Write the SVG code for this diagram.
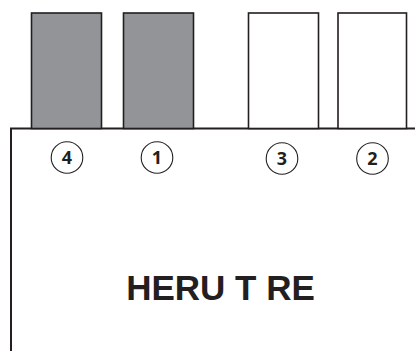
<svg xmlns="http://www.w3.org/2000/svg" width="415" height="351" viewBox="0 0 415 351">
<style>
.port{stroke:#231f20;stroke-width:1.6}
.dark{fill:#929497}
.light{fill:#ffffff}
.badge{fill:#ffffff;stroke:#231f20;stroke-width:1.1}
.num{font-family:"Open Sans","Liberation Sans",sans-serif;font-weight:700;font-size:18px;fill:#231f20;text-anchor:middle}
.body{fill:none;stroke:#231f20;stroke-width:2}
.title{font-family:"Liberation Sans",Arial,sans-serif;font-weight:700;font-size:35px;fill:#231f20;text-anchor:middle}
</style>
<g id="device">
<polyline class="body" points="11,351 11,128.5 415,128.5"/>
<text class="title" x="220.5" y="299.5">HERU T RE</text>
</g>
<g id="port4">
<rect class="port dark" x="31.5" y="13" width="70" height="115.5"/>
<circle class="badge" cx="67" cy="157.5" r="15.8"/>
<text class="num" x="67" y="164">4</text>
</g>
<g id="port1">
<rect class="port dark" x="123.5" y="13" width="70" height="115.5"/>
<circle class="badge" cx="157" cy="157.5" r="15.8"/>
<text class="num" x="157" y="164">1</text>
</g>
<g id="port3">
<rect class="port light" x="248.5" y="13" width="70" height="115.5"/>
<circle class="badge" cx="282" cy="158.5" r="15.8"/>
<text class="num" x="282" y="165">3</text>
</g>
<g id="port2">
<rect class="port light" x="338" y="13" width="68.5" height="115.5"/>
<circle class="badge" cx="372.5" cy="158.5" r="15.8"/>
<text class="num" x="372.5" y="165">2</text>
</g>
<g id="connectors"></g>
</svg>
